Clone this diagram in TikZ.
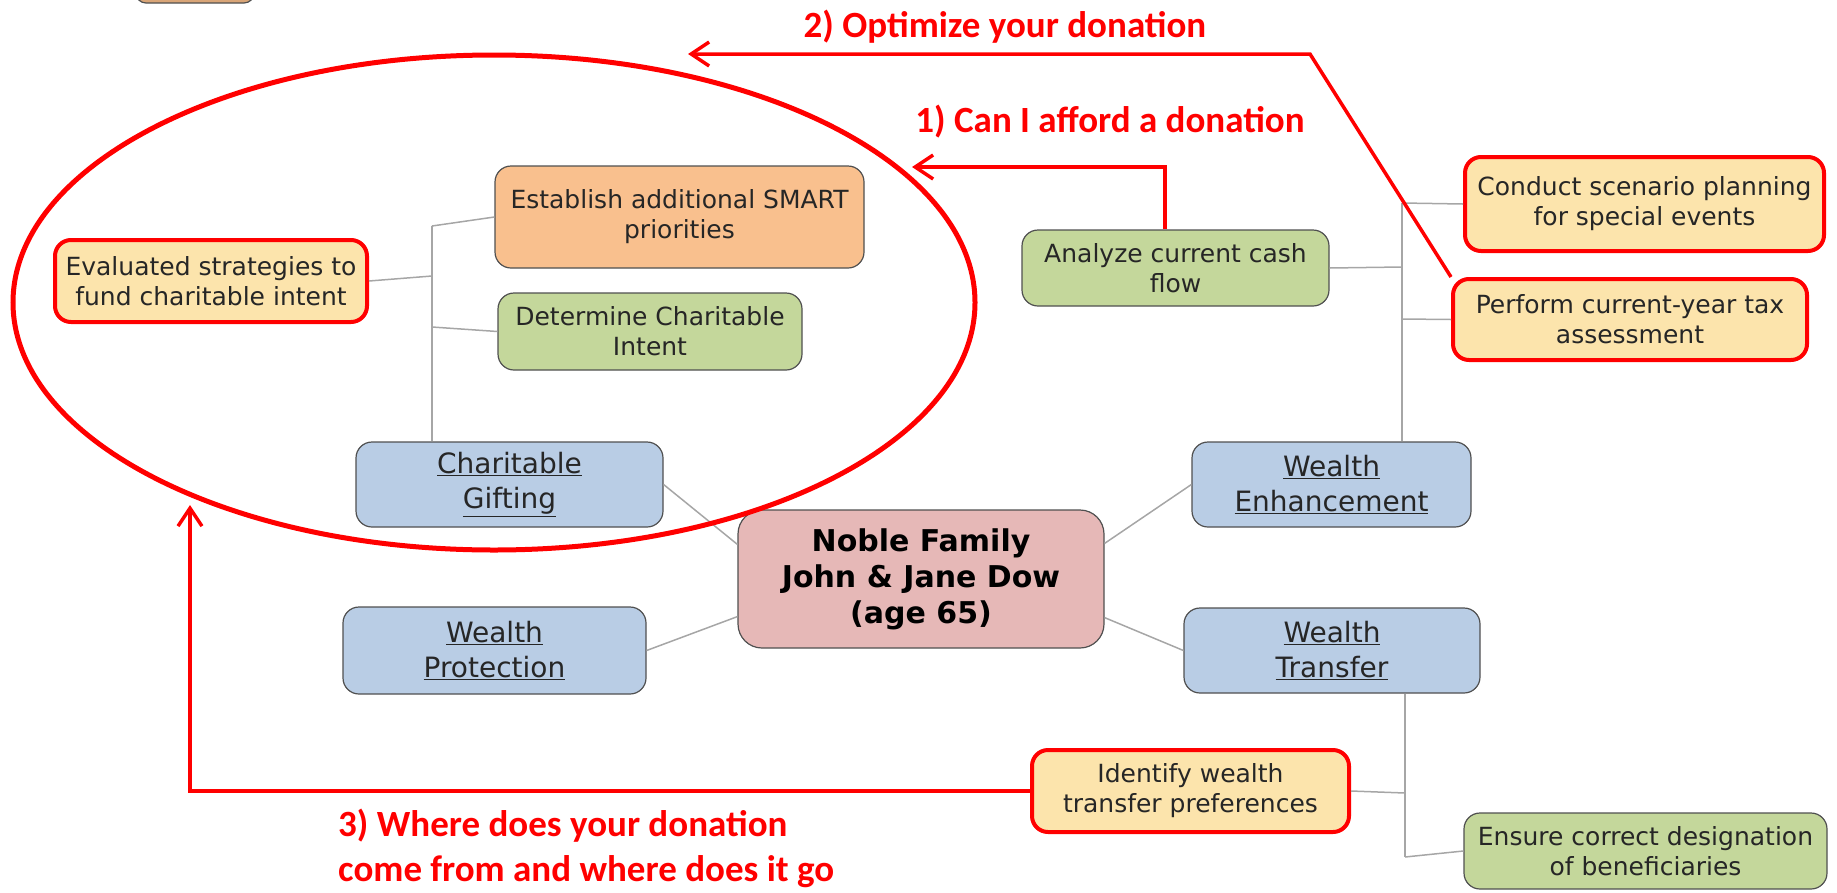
\documentclass[tikz,border=0pt]{standalone}
\usepackage{fontspec}
\setmainfont{DejaVu Sans}
\newfontfamily\redfont{Carlito}
\usetikzlibrary{arrows.meta}
\definecolor{byellow}{HTML}{FCE4AC}
\definecolor{borange}{HTML}{F9C08E}
\definecolor{bgreen}{HTML}{C4D79B}
\definecolor{bblue}{HTML}{B9CDE5}
\definecolor{bpink}{HTML}{E6B8B7}
\definecolor{btan}{HTML}{D9A577}
\definecolor{bborder}{HTML}{505050}
\definecolor{conncol}{HTML}{A6A6A6}
\definecolor{textcol}{HTML}{262626}
\definecolor{annred}{HTML}{FF0000}
\begin{document}
\begin{tikzpicture}[x=1pt,y=-1pt,
  box/.style={draw=bborder, line width=1.2pt, rounded corners=16pt, align=center,
    inner sep=0pt, text=textcol, font=\fontsize{25}{30}\selectfont},
  redbox/.style={box, draw=annred, line width=4pt, fill=byellow},
  bluebox/.style={box, fill=bblue, font=\fontsize{28}{35}\selectfont},
  conn/.style={draw=conncol, line width=1.5pt},
  redarrow/.style={draw=annred, line width=3.5pt,
    -{Straight Barb[length=18pt,width=24pt]}},
  redlabel/.style={text=annred, inner sep=0pt,
    font=\redfont\bfseries\fontsize{37}{45}\selectfont}]
\useasboundingbox (0,0) rectangle (1837,892);

% connectors (drawn first)
\coordinate (lt) at (432,226);
\coordinate (lb1) at (432,276);
\coordinate (lb2) at (432,327);
\coordinate (rt) at (1402,203);
\coordinate (rb1) at (1402,267);
\coordinate (rb2) at (1402,319);
\coordinate (bb1) at (1405,793);
\coordinate (bt) at (1405,857);

% nodes
\node[box, fill=btan, rounded corners=10pt, minimum width=118pt, minimum height=44pt] (topbox) at (195,-19) {};
\node[redbox, minimum width=312pt, minimum height=82pt] (eval) at (211,281) {Evaluated strategies to\\fund charitable intent};
\node[box, fill=borange, minimum width=369pt, minimum height=102pt] (smart) at (679.5,217) {Establish additional SMART\\priorities};
\node[box, fill=bgreen, minimum width=304pt, minimum height=77pt] (determine) at (650,331.5) {Determine Charitable\\Intent};
\node[bluebox, minimum width=307pt, minimum height=85pt] (cg) at (509.5,484.5) {\underline{Charitable}\\\underline{Gifting}};
\node[box, fill=bpink, rounded corners=24pt, minimum width=366pt, minimum height=138pt,
  text=black, font=\bfseries\fontsize{30}{36}\selectfont] (noble) at (921,579) {Noble Family\\John \& Jane Dow\\(age 65)};
\node[bluebox, minimum width=279pt, minimum height=85pt] (we) at (1331.5,484.5) {\underline{Wealth}\\\underline{Enhancement}};
\node[bluebox, minimum width=296pt, minimum height=85pt] (wt) at (1332,650.5) {\underline{Wealth}\\\underline{Transfer}};
\node[bluebox, minimum width=303pt, minimum height=87pt] (wp) at (494.5,650.5) {\underline{Wealth}\\\underline{Protection}};
\node[box, fill=bgreen, minimum width=307pt, minimum height=76pt] (analyze) at (1175.5,268) {Analyze current cash\\flow};
\node[redbox, minimum width=359pt, minimum height=94pt] (conduct) at (1644.5,204) {Conduct scenario planning\\for special events};
\node[redbox, minimum width=354pt, minimum height=81pt] (perform) at (1630,319.5) {Perform current-year tax\\assessment};
\node[redbox, minimum width=317pt, minimum height=82pt] (identify) at (1190.5,791) {Identify wealth\\transfer preferences};
\node[box, fill=bgreen, minimum width=363pt, minimum height=76pt] (ensure) at (1645.5,851) {Ensure correct designation\\of beneficiaries};

% gray tree connectors
\draw[conn] (lt) -- (lt |- cg.north);
\draw[conn] (lt) -- (smart.west);
\draw[conn] (lb1) -- (eval.east);
\draw[conn] (lb2) -- (determine.west);
\draw[conn] (rt) -- (rt |- we.north);
\draw[conn] (rt) -- (conduct.west);
\draw[conn] (rb1) -- (analyze.east);
\draw[conn] (rb2) -- (perform.west);
\draw[conn] (bt |- wt.south) -- (bt);
\draw[conn] (bb1) -- (identify.east);
\draw[conn] (bt) -- (ensure.west);
\draw[conn] (cg.east) -- ([yshift=-35pt]noble.north west);
\draw[conn] ([yshift=-34pt]noble.north east) -- (we.west);
\draw[conn] ([yshift=31pt]noble.south east) -- (wt.west);
\draw[conn] ([yshift=32pt]noble.south west) -- (wp.east);

% red ellipse
\draw[annred, line width=5pt] (494,302.5) ellipse [x radius=481, y radius=247.5];

% red arrows
\coordinate (a1c) at (1165,167);
\coordinate (a1t) at (912,167);
\draw[redarrow] (a1c |- analyze.north) -- (a1c) -- (a1t);
\coordinate (a2c) at (1310,54);
\coordinate (a2t) at (688,54);
\draw[redarrow] (perform.north west) -- (a2c) -- (a2t);
\coordinate (a3c) at (190,791);
\coordinate (a3t) at (190,505);
\draw[redarrow] (identify.west) -- (a3c) -- (a3t);

% red labels
\node[redlabel, anchor=base] (l2) at (1005,37) {2) Optimize your donation};
\node[redlabel, anchor=base] (l1) at (1110,132) {1) Can I afford a donation};
\node[redlabel, anchor=base west] (l3a) at (338,836) {3) Where does your donation};
\node[redlabel, anchor=base west] (l3b) at (338,881) {come from and where does it go};
\end{tikzpicture}
\end{document}
